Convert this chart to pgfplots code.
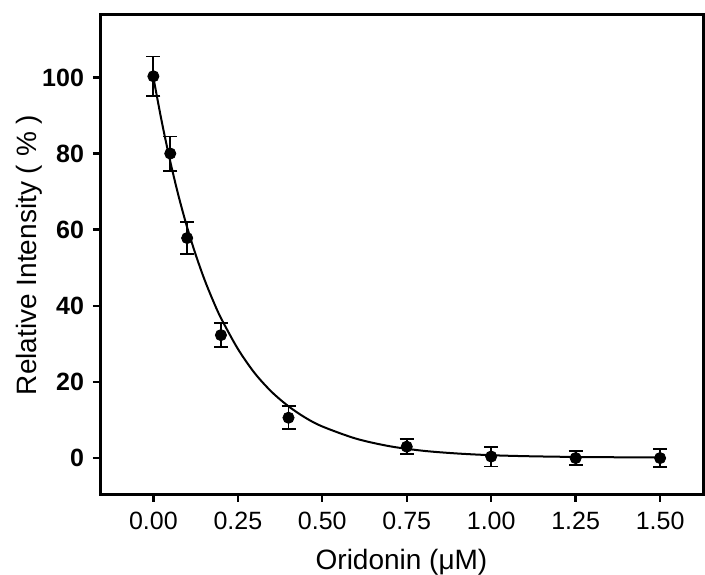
\documentclass[border=0pt]{standalone}
\usepackage{fontspec}
\setmainfont{Liberation Sans}
\usepackage{pgfplots}
\pgfplotsset{compat=1.18}
\usetikzlibrary{calc}

% measured points: concentration, relative intensity, sd
\pgfplotstableread{
x    y      e
0.00 100.3  5.2
0.05 80.0   4.5
0.10 57.8   4.2
0.20 32.3   3.2
0.40 10.6   3.0
0.75 3.0    2.0
1.00 0.4    2.6
1.25 0.0    1.8
1.50 0.0    2.4
}\meas

\begin{document}
\begin{tikzpicture}
\begin{axis}[name=ax,scale only axis,width=301.5pt,height=240pt,
  xmin=-0.158,xmax=1.627,ymin=-9.7,ymax=116.4,
  xtick={0,0.25,0.5,0.75,1,1.25,1.5},ytick={0,20,40,60,80,100},
  xtick pos=bottom,ytick pos=left,tick align=outside,
  major tick length=3.5pt,tick style={line width=1.2pt,black},
  axis line style={line width=1.5pt},
  tick label style={font=\fontsize{12.5}{14}\selectfont},
  x tick label style={yshift=-1.5pt,/pgf/number format/.cd,fixed,fixed zerofill,precision=2},
  y tick label style={font=\fontsize{12.5}{14}\selectfont\bfseries,xshift=-1pt},
  label style={font=\fontsize{14}{16}\selectfont},
  /pgf/number format/assume math mode=true,
  xlabel={Oridonin (μM)},ylabel={Relative Intensity ( \% )},
  xlabel style={yshift=-3pt},ylabel style={yshift=-7pt}]
% fitted decay curve
\addplot[black,line width=1pt,smooth] coordinates {
(0,100) (0.025,88.3) (0.05,77.9) (0.075,68.7) (0.1,60.6) (0.125,53.5)
(0.15,47.2) (0.175,41.7) (0.2,36.8) (0.25,28.7) (0.3,22.3) (0.35,17.4)
(0.4,13.6) (0.45,10.6) (0.5,8.3) (0.6,5.1) (0.7,3.1) (0.8,1.9)
(0.9,1.2) (1.0,0.75) (1.1,0.5) (1.2,0.35) (1.3,0.25) (1.4,0.2) (1.5,0.18)};
\addplot[black,only marks,mark=*,mark size=2.8pt,
  error bars/.cd,y dir=both,y explicit,
  error bar style={line width=0.9pt},
  error mark options={rotate=90,mark size=3.5pt,line width=0.9pt}]
  table[x=x,y=y,y error=e] {\meas};
\end{axis}
\pgfresetboundingbox
\path ($(ax.south west)+(-50pt,-40pt)$) rectangle ($(ax.north east)+(1pt,7.5pt)$);
\end{tikzpicture}
\end{document}
